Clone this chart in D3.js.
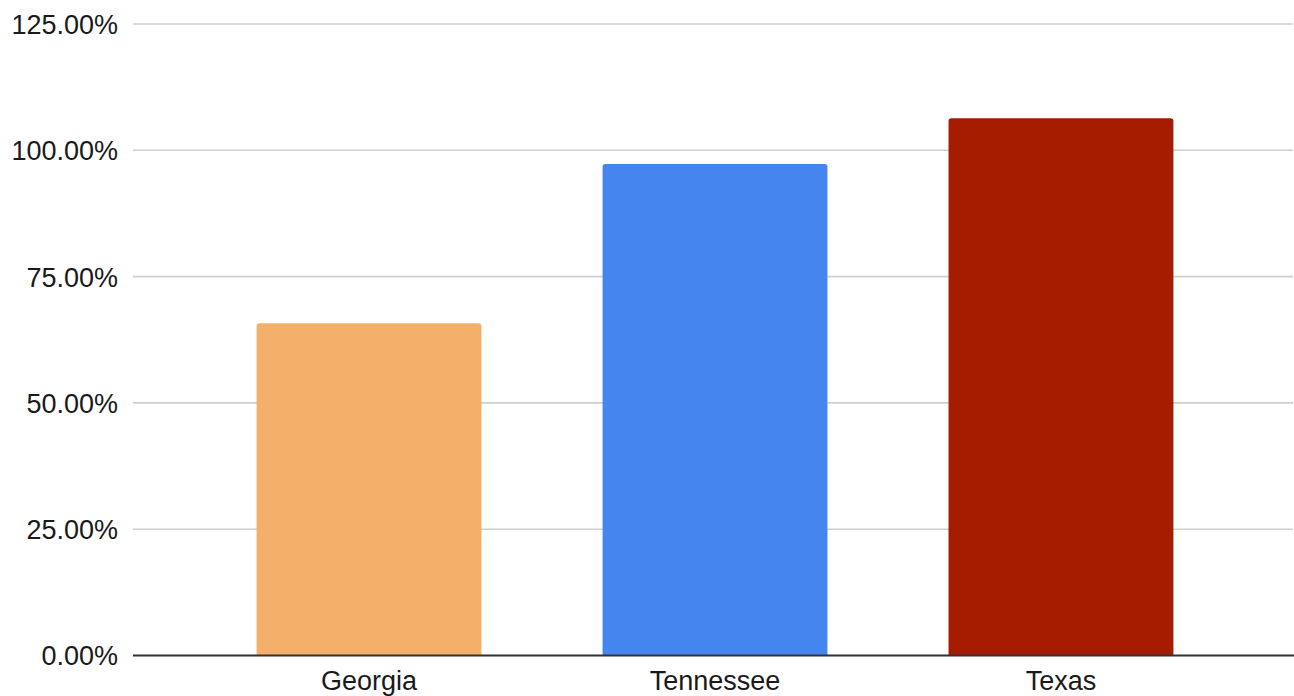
<!DOCTYPE html>
<html>
<head>
<meta charset="utf-8">
<script src="https://cdn.jsdelivr.net/npm/d3@7"></script>
<style>
  html, body { margin: 0; padding: 0; background: #fff; }
  svg { display: block; }
  text { font-family: "Liberation Sans", Arial, Helvetica, sans-serif; fill: #1a1a1a; }
</style>
</head>
<body>
<svg id="chart" width="1294" height="696"></svg>
<script>
// Share of target reached, by state
const states = ["Georgia", "Tennessee", "Texas"];
const shares = [65.76, 97.29, 106.33];
const barColors = ["#f4b06b", "#4485f0", "#a51c00"];
const yTicks = [0, 25, 50, 75, 100, 125];

const svg = d3.select("#chart");
const plotLeft = 135.5, plotRight = 1294.5, plotTop = 24, plotBottom = 655.5, gridRight = 1293;

const x = d3.scaleBand().domain(states).range([plotLeft, plotRight]).padding(0.35);
const y = d3.scaleLinear().domain([0, 125]).range([plotBottom, plotTop]);

// horizontal gridlines
svg.append("g")
  .selectAll("line")
  .data(yTicks.filter(t => t > 0))
  .join("line")
  .attr("x1", 133).attr("x2", gridRight)
  .attr("y1", d => y(d)).attr("y2", d => y(d))
  .attr("stroke", "#cfcfcf").attr("stroke-width", 1.6);

// y tick labels
svg.append("g")
  .selectAll("text")
  .data(yTicks)
  .join("text")
  .attr("x", 118)
  .attr("y", d => y(d))
  .attr("dy", "0.37em")
  .attr("text-anchor", "end")
  .style("font-size", "27px")
  .text(d => d.toFixed(2) + "%");

// bars with slightly rounded tops
const r = 3;
svg.append("g")
  .selectAll("path")
  .data(states)
  .join("path")
  .attr("fill", (d, i) => barColors[i])
  .attr("d", (d, i) => {
    const x0 = x(d), x1 = x(d) + x.bandwidth(), yt = y(shares[i]), yb = y(0);
    return `M${x0},${yb} L${x0},${yt + r} Q${x0},${yt} ${x0 + r},${yt} L${x1 - r},${yt} Q${x1},${yt} ${x1},${yt + r} L${x1},${yb} Z`;
  });

// baseline
svg.append("line")
  .attr("x1", 133).attr("x2", 1294)
  .attr("y1", y(0)).attr("y2", y(0))
  .attr("stroke", "#333").attr("stroke-width", 2);

// category labels
svg.append("g")
  .selectAll("text")
  .data(states)
  .join("text")
  .attr("x", d => x(d) + x.bandwidth() / 2)
  .attr("y", 689.5)
  .attr("text-anchor", "middle")
  .style("font-size", "27px")
  .text(d => d);
</script>
</body>
</html>
